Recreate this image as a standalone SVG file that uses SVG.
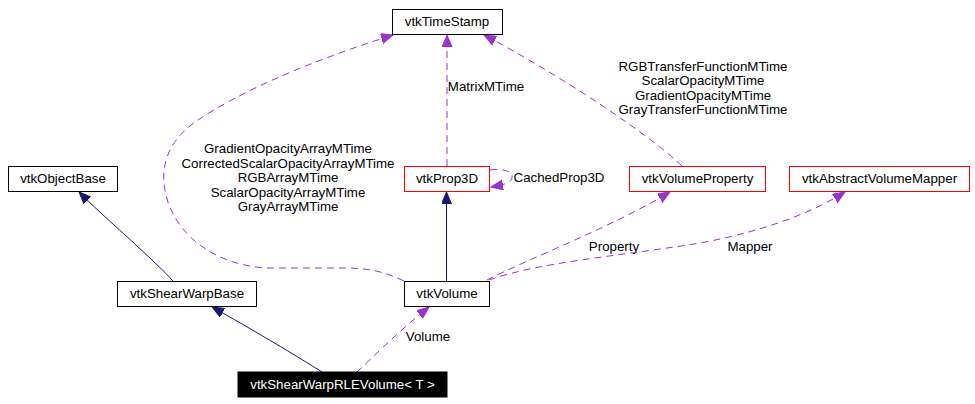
<svg xmlns="http://www.w3.org/2000/svg" width="975" height="404" viewBox="0 0 975 404">
<style>
text{font-family:"Liberation Sans",Arial,sans-serif;font-size:13.3px;fill:#000;text-anchor:middle}
.box{fill:#fff;stroke:#000;stroke-width:1}
.red{fill:#fff;stroke:#ff0000;stroke-width:1}
.inh{fill:none;stroke:#191970;stroke-width:1;marker-end:url(#an)}
.use{fill:none;stroke:#9a32cd;stroke-width:1;stroke-dasharray:7,5;marker-end:url(#ap)}
</style>
<defs>
<marker id="an" markerUnits="userSpaceOnUse" markerWidth="13" markerHeight="11" refX="12" refY="5" orient="auto">
<path d="M0,0 L12,5 L0,10 z" fill="#191970" stroke="#191970"/>
</marker>
<marker id="ap" markerUnits="userSpaceOnUse" markerWidth="13" markerHeight="11" refX="12" refY="5" orient="auto">
<path d="M0,0 L12,5 L0,10 z" fill="#9a32cd" stroke="#9a32cd"/>
</marker>
</defs>
<rect width="975" height="404" fill="#fff"/>
<g id="connectors">
<path class="inh" d="M173,281 C165,272 150,258 137,246 C120,230 100,213 79,192"/>
<path class="inh" d="M322,372 C300,358 250,328 212,307"/>
<path class="inh" d="M446.5,281 L446.5,192"/>
<path class="use" d="M357,372 C375,355 400,330 429,307"/>
<text x="428" y="341">Volume</text>
<path class="use" d="M404,281 C385,272 370,268 345,268 L265,268 C215,264 182,238 169,205 C158,175 163,145 195,122 C245,88 320,58 393,35"/>
<text x="288" y="153">GradientOpacityArrayMTime</text>
<text x="288" y="167.5">CorrectedScalarOpacityArrayMTime</text>
<text x="288" y="182">RGBArrayMTime</text>
<text x="288" y="196.5">ScalarOpacityArrayMTime</text>
<text x="288" y="211">GrayArrayMTime</text>
<path class="use" d="M447,166 L447,35"/>
<text x="486" y="91">MatrixMTime</text>
<path class="use" d="M490,170 C505,168 513,172 512,178 C511,183 503,185 491,187"/>
<text x="559" y="182">CachedProp3D</text>
<path class="use" d="M682,166 C650,135 560,75 484,35"/>
<text x="703" y="70.5">RGBTransferFunctionMTime</text>
<text x="703" y="85">ScalarOpacityMTime</text>
<text x="703" y="99.5">GradientOpacityMTime</text>
<text x="703" y="114">GrayTransferFunctionMTime</text>
<path class="use" d="M487,280 C530,258 610,228 670,192"/>
<text x="614" y="251">Property</text>
<path class="use" d="M489,280 C540,262 620,256 700,243 C760,232 810,214 845,192"/>
<text x="750" y="251">Mapper</text>
</g>
<g id="vtkTimeStamp"><rect class="box" x="392.5" y="9.5" width="110" height="25"/><text x="447" y="26">vtkTimeStamp</text></g>
<g id="vtkProp3D"><rect class="red" x="404.5" y="166.5" width="85" height="25"/><text x="447" y="183">vtkProp3D</text></g>
<g id="vtkVolumeProperty"><rect class="red" x="629.5" y="166.5" width="136" height="25"/><text x="697.5" y="183">vtkVolumeProperty</text></g>
<g id="vtkAbstractVolumeMapper"><rect class="red" x="789.5" y="166.5" width="180" height="25"/><text x="879.5" y="183">vtkAbstractVolumeMapper</text></g>
<g id="vtkObjectBase"><rect class="box" x="8.5" y="166.5" width="109" height="25"/><text x="63" y="183">vtkObjectBase</text></g>
<g id="vtkShearWarpBase"><rect class="box" x="117.5" y="281.5" width="139" height="25"/><text x="187" y="298">vtkShearWarpBase</text></g>
<g id="vtkVolume"><rect class="box" x="404.5" y="281.5" width="85" height="25"/><text x="447" y="298">vtkVolume</text></g>
<g id="vtkShearWarpRLEVolume"><rect x="238" y="372" width="209" height="25" fill="#000" stroke="#000"/><text x="342.5" y="389" style="fill:#fff">vtkShearWarpRLEVolume&lt; T &gt;</text></g>
</svg>
